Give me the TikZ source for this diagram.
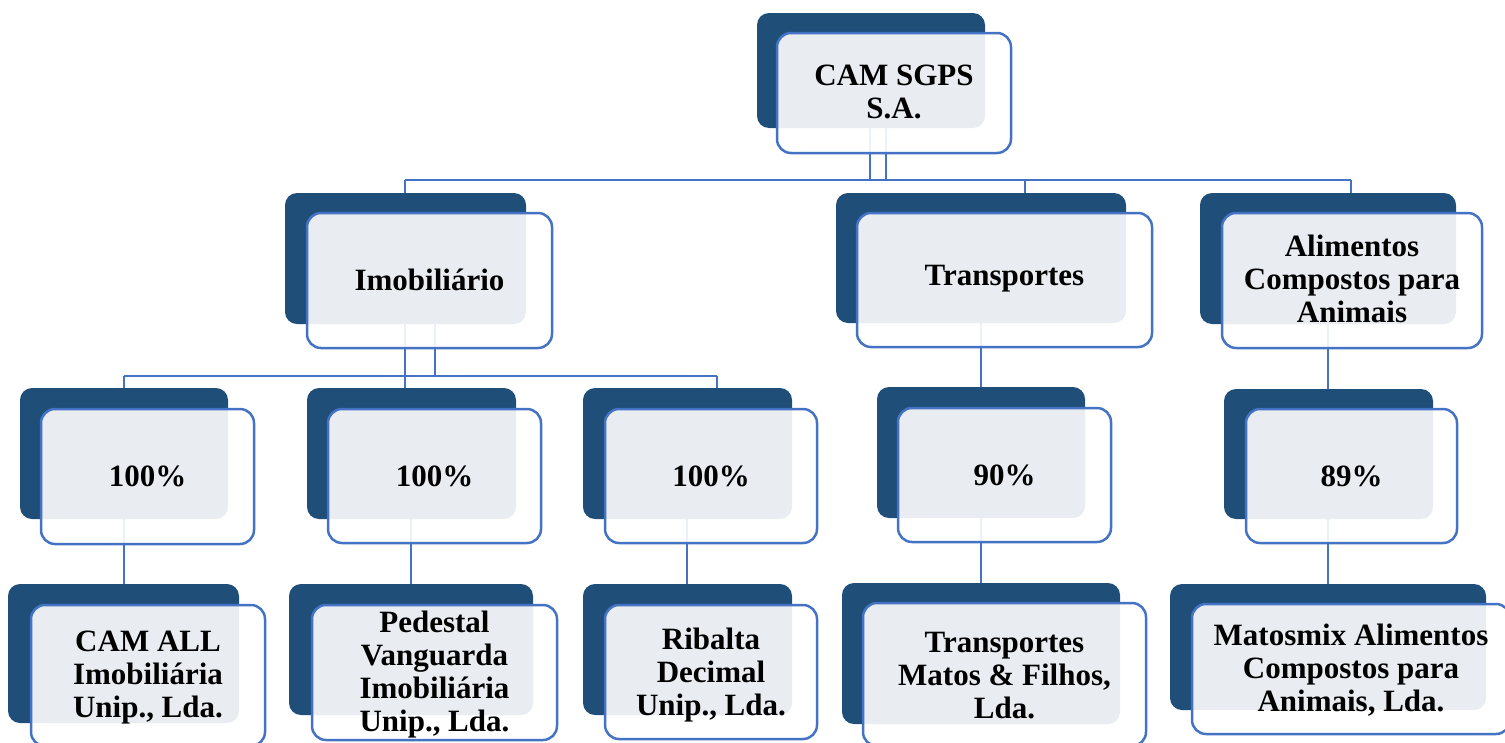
\documentclass[tikz,border=0pt]{standalone}
\usepackage{fontspec}
\setmainfont{Liberation Serif}
\usetikzlibrary{fit}
\definecolor{navy}{HTML}{1F4E79}
\definecolor{edgeblue}{HTML}{4472C4}
\begin{document}
\begin{tikzpicture}[x=1pt,y=-1pt,
  backbox/.style={fill=navy, draw=none, rounded corners=12pt, inner sep=0pt},
  frontbox/.style={fill=white, fill opacity=0.9, draw=edgeblue,
    line width=2.5pt, rounded corners=14pt, inner sep=0pt},
  cardtext/.style={align=center, inner sep=0pt,
    font=\fontsize{31}{33}\selectfont\bfseries},
  conn/.style={draw=edgeblue, line width=2pt}]
\clip (0,0) rectangle (1505,742);

% ---- dark back plates ----
\node[backbox, fit={(757,13) (985,128)}]    (rootD) {};
\node[backbox, fit={(285,193) (526,324)}]   (imobD) {};
\node[backbox, fit={(836,193) (1126,323)}]  (transpD) {};
\node[backbox, fit={(1200,193) (1456,324)}] (alimD) {};
\node[backbox, fit={(20,388) (228,519)}]    (pAD) {};
\node[backbox, fit={(307,388) (516,519)}]   (pBD) {};
\node[backbox, fit={(583,388) (792,519)}]   (pCD) {};
\node[backbox, fit={(877,387) (1085,518)}]  (pTD) {};
\node[backbox, fit={(1224,389) (1433,519)}] (pMD) {};
\node[backbox, fit={(8,584) (239,723)}]     (camallD) {};
\node[backbox, fit={(289,584) (533,715)}]   (pedD) {};
\node[backbox, fit={(583,584) (792,715)}]   (ribD) {};
\node[backbox, fit={(842,583) (1120,724)}]  (tmfD) {};
\node[backbox, fit={(1170,584) (1486,710)}] (mmxD) {};

% ---- connectors ----
\coordinate (j1a) at (870,180);
\coordinate (j1b) at (886,180);
\coordinate (j1L) at (405,180);
\coordinate (j1T) at (1025,180);
\coordinate (j1R) at (1351,180);
\draw[conn] (rootD.south -| j1a) -- (j1a);
\draw[conn] (rootD.south -| j1b) -- (j1b);
\draw[conn] (j1L) -- (j1R);
\draw[conn] (j1L) -- (imobD.north -| j1L);
\draw[conn] (j1T) -- (transpD.north -| j1T);
\draw[conn] (j1R) -- (alimD.north -| j1R);

\coordinate (j2a) at (405,376);
\coordinate (j2b) at (435,376);
\coordinate (j2L) at (124,376);
\coordinate (j2R) at (717,376);
\draw[conn] (imobD.south -| j2a) -- (pBD.north -| j2a);
\draw[conn] (imobD.south -| j2b) -- (j2b);
\draw[conn] (j2L) -- (j2R);
\draw[conn] (j2L) -- (pAD.north -| j2L);
\draw[conn] (j2R) -- (pCD.north -| j2R);
\draw[conn] (transpD.south -| 981,0) -- (pTD.north -| 981,0);
\draw[conn] (alimD.south -| 1328,0) -- (pMD.north -| 1328,0);

\draw[conn] (pAD.south -| 124,0) -- (camallD.north -| 124,0);
\draw[conn] (pBD.south -| 411,0) -- (pedD.north -| 411,0);
\draw[conn] (pCD.south -| 687,0) -- (ribD.north -| 687,0);
\draw[conn] (pTD.south -| 981,0) -- (tmfD.north -| 981,0);
\draw[conn] (pMD.south -| 1328,0) -- (mmxD.north -| 1328,0);

% ---- front cards ----
\node[frontbox, fit={(777,33) (1011,153)}]   (root)   {};
\node[frontbox, fit={(307,213) (552,348)}]   (imob)   {};
\node[frontbox, fit={(857,213) (1152,347)}]  (transp) {};
\node[frontbox, fit={(1222,213) (1482,348)}] (alim)   {};
\node[frontbox, fit={(41,409) (254,544)}]    (pA)     {};
\node[frontbox, fit={(328,409) (541,543)}]   (pB)     {};
\node[frontbox, fit={(605,409) (817,543)}]   (pC)     {};
\node[frontbox, fit={(898,408) (1111,542)}]  (pT)     {};
\node[frontbox, fit={(1246,409) (1457,543)}] (pM)     {};
\node[frontbox, fit={(31,605) (265,746)}]    (camall) {};
\node[frontbox, fit={(312,605) (557,740)}]   (ped)    {};
\node[frontbox, fit={(605,605) (817,739)}]   (rib)    {};
\node[frontbox, fit={(863,603) (1146,746)}]  (tmf)    {};
\node[frontbox, fit={(1192,604) (1510,734)}] (mmx)    {};

% ---- card labels ----
\node[cardtext] (rootL)   at ([yshift=1pt]root.center)   {CAM SGPS\\S.A.};
\node[cardtext] (imobL)   at ([yshift=1pt]imob.center)   {Imobiliário};
\node[cardtext] (transpL) at ([yshift=1pt]transp.center) {Transportes};
\node[cardtext] (alimL)   at ([yshift=2pt]alim.center)   {Alimentos\\Compostos para\\Animais};
\node[cardtext] (pAL)     at ([yshift=0pt]pA.center)     {100\%};
\node[cardtext] (pBL)     at ([yshift=0pt]pB.center)     {100\%};
\node[cardtext] (pCL)     at ([yshift=0pt]pC.center)     {100\%};
\node[cardtext] (pTL)     at ([yshift=0pt]pT.center)     {90\%};
\node[cardtext] (pML)     at ([yshift=0pt]pM.center)     {89\%};
\node[cardtext] (camallL) at ([yshift=-2pt]camall.center) {CAM ALL\\Imobiliária\\Unip., Lda.};
\node[cardtext] (pedL)    at ([yshift=-2pt]ped.center)    {Pedestal\\Vanguarda\\Imobiliária\\Unip., Lda.};
\node[cardtext] (ribL)    at ([yshift=-3pt]rib.center)    {Ribalta\\Decimal\\Unip., Lda.};
\node[cardtext] (tmfL)    at ([yshift=-1pt]tmf.center)    {Transportes\\Matos \& Filhos,\\Lda.};
\node[cardtext] (mmxL)    at ([yshift=-1pt]mmx.center)    {Matosmix Alimentos\\Compostos para\\Animais, Lda.};
\end{tikzpicture}
\end{document}
